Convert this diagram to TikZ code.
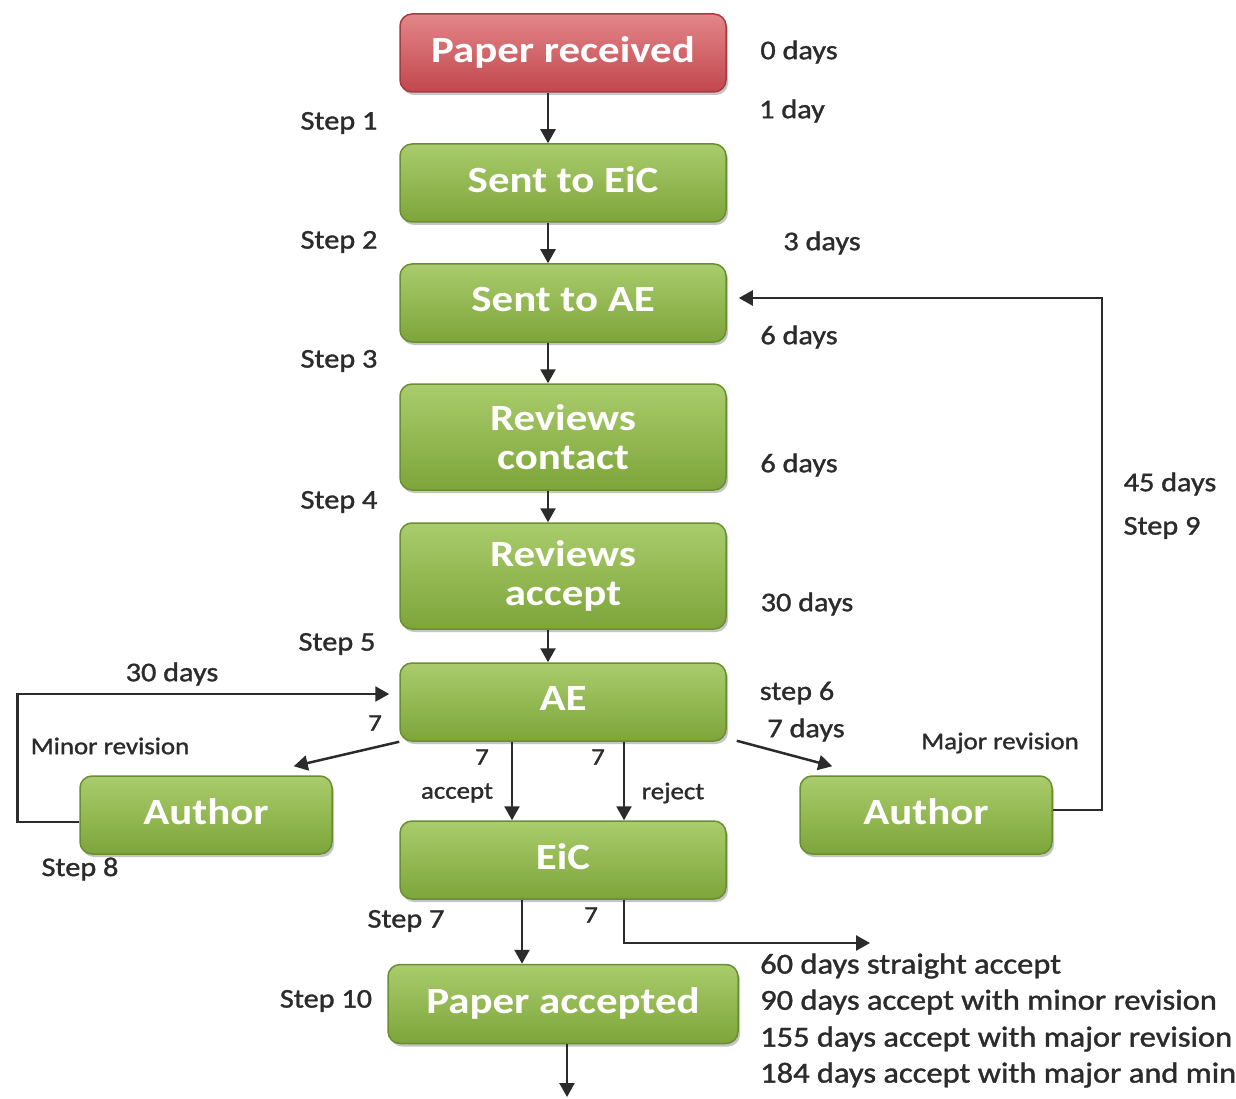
\documentclass[tikz,border=0pt]{standalone}
\usepackage{fontspec}
\usepackage{graphicx}
\setmainfont{Carlito}
\newfontfamily\semib[FakeBold=1.2]{Carlito}
\usetikzlibrary{arrows.meta,shadows}
\definecolor{gtop}{HTML}{AACC6C}
\definecolor{gbot}{HTML}{7DA53A}
\definecolor{gdraw}{HTML}{6A8E33}
\definecolor{rtop}{HTML}{E3868A}
\definecolor{rbot}{HTML}{C1474D}
\definecolor{rdraw}{HTML}{A63C41}
\definecolor{ink}{HTML}{2B2B2B}
\newcommand{\ws}[1]{\scalebox{1.12}[1]{#1}}
\newcommand{\wb}[1]{\scalebox{1.16}[1]{#1}}
\begin{document}
\begin{tikzpicture}[x=1pt,y=-1pt,
 box/.style={rounded corners=12pt, minimum width=326pt, minimum height=78pt, draw=gdraw, line width=1.5pt,
   top color=gtop, bottom color=gbot, text=white, font=\fontsize{37}{39}\selectfont\bfseries, align=center,
   drop shadow={shadow xshift=2pt, shadow yshift=-3pt, opacity=0.45}, inner sep=0pt},
 redbox/.style={box, draw=rdraw, top color=rtop, bottom color=rbot},
 lbl/.style={text=ink, font=\semib\fontsize{27}{29}\selectfont, inner sep=0pt},
 blbl/.style={text=ink, font=\semib\fontsize{29}{31}\selectfont, inner sep=0pt, anchor=west},
 slbl/.style={text=ink, font=\semib\fontsize{24}{26}\selectfont, inner sep=0pt},
 conn/.style={line width=2.5pt, draw=ink, -{Triangle[width=15pt,length=14pt]}},
]
\useasboundingbox (0,0) rectangle (1236,1099);
\fill[white] (0,0) rectangle (1236,1099);

% boxes
\node[redbox] (pr) at (563,53) {\raisebox{7pt}{\wb{Paper received}}};
\node[box] (eic1) at (563,183) {\raisebox{7pt}{\wb{Sent to EiC}}};
\node[box] (ae1) at (563,303) {\raisebox{7pt}{\wb{Sent to AE}}};
\node[box, minimum height=106pt] (rc) at (563,437) {\wb{Reviews}\\\wb{contact}};
\node[box, minimum height=106pt] (ra) at (563,576) {\wb{Reviews}\\\wb{accept}};
\node[box] (ae) at (563,702) {\raisebox{7pt}{\wb{AE}}};
\node[box] (eic) at (563,860) {\raisebox{7pt}{\wb{EiC}}};
\node[box, minimum width=350pt, minimum height=79pt] (pa) at (563,1004) {\raisebox{7pt}{\wb{Paper accepted}}};
\node[box, minimum width=252pt] (al) at (206,815) {\raisebox{7pt}{\wb{Author}}};
\node[box, minimum width=252pt] (ar) at (926,815) {\raisebox{7pt}{\wb{Author}}};

% free ends
\coordinate (out) at (870,943);
\coordinate (bot) at (567,1097);

% connectors
\draw[conn] ([xshift=-15pt]pr.south) -- ([xshift=-15pt]eic1.north);
\draw[conn] ([xshift=-15pt]eic1.south) -- ([xshift=-15pt]ae1.north);
\draw[conn] ([xshift=-15pt]ae1.south) -- ([xshift=-15pt]rc.north);
\draw[conn] ([xshift=-15pt]rc.south) -- ([xshift=-15pt]ra.north);
\draw[conn] ([xshift=-15pt]ra.south) -- ([xshift=-15pt]ae.north);
\draw[conn] ([xshift=-51pt]ae.south) -- ([xshift=-51pt]eic.north);
\draw[conn] ([xshift=61pt]ae.south) -- ([xshift=61pt]eic.north);
\draw[conn] (ae.south west) -- ([xshift=-39pt,yshift=9pt]al.north east);
\draw[conn] ([xshift=10pt,yshift=1pt]ae.south east) -- ([xshift=33pt,yshift=9pt]ar.north west);
\draw[conn] ([yshift=-7pt]al.west) -- ++(-62,0) |- ([xshift=-10pt,yshift=8pt]ae.west);
\draw[conn] ([yshift=5pt]ar.east) -- ++(49,0) |- ([xshift=12pt,yshift=5pt]ae1.east);
\draw[conn] ([xshift=-41pt]eic.south) -- ([xshift=-41pt]pa.north);
\draw[conn] ([xshift=61pt]eic.south) |- (out);
\draw[conn] ([xshift=4pt]pa.south) -- (bot);

% labels
\node[lbl] (t0) at (799,52) {\ws{0 days}};
\node[lbl] (t1) at (792,111) {\ws{1 day}};
\node[lbl] (s1) at (339,123) {\ws{Step 1}};
\node[lbl] (s2) at (339,242) {\ws{Step 2}};
\node[lbl] (t3) at (822,243) {\ws{3 days}};
\node[lbl] (t6a) at (799,337) {\ws{6 days}};
\node[lbl] (s3) at (339,361) {\ws{Step 3}};
\node[lbl] (t6b) at (799,465) {\ws{6 days}};
\node[lbl] (s4) at (339,502) {\ws{Step 4}};
\node[lbl] (t30) at (807,604) {\ws{30 days}};
\node[lbl] (s5) at (337,644) {\ws{Step 5}};
\node[lbl] (s6) at (797,693) {\ws{step 6}};
\node[lbl] (t7d) at (806,730) {\ws{7 days}};
\node[lbl] (t45) at (1170,484) {\ws{45 days}};
\node[lbl] (s9) at (1162,528) {\ws{Step 9}};
\node[slbl] (major) at (1000,743) {\ws{Major revision}};
\node[slbl] (minor) at (110,746) {\ws{Minor revision}};
\node[lbl] (t30b) at (172,674) {\ws{30 days}};
\node[slbl] (n7a) at (375,723) {\ws{7}};
\node[slbl] (n7b) at (482,757) {\ws{7}};
\node[slbl] (n7c) at (598,757) {\ws{7}};
\node[slbl] (acc) at (457,793) {\ws{accept}};
\node[slbl] (rej) at (673,793) {\ws{reject}};
\node[lbl] (s8) at (80,869) {\ws{Step 8}};
\node[lbl] (s7) at (406,921) {\ws{Step 7}};
\node[slbl] (n7d) at (591,915) {\ws{7}};
\node[lbl] (s10) at (326,1001) {\ws{Step 10}};
\node[blbl] (r1) at (760,966) {\ws{60 days straight accept}};
\node[blbl] (r2) at (760,1002) {\ws{90 days accept with minor revision}};
\node[blbl] (r3) at (760,1039) {\ws{155 days accept with major revision}};
\node[blbl] (r4) at (760,1075) {\ws{184 days accept with major and min}};
\end{tikzpicture}
\end{document}
